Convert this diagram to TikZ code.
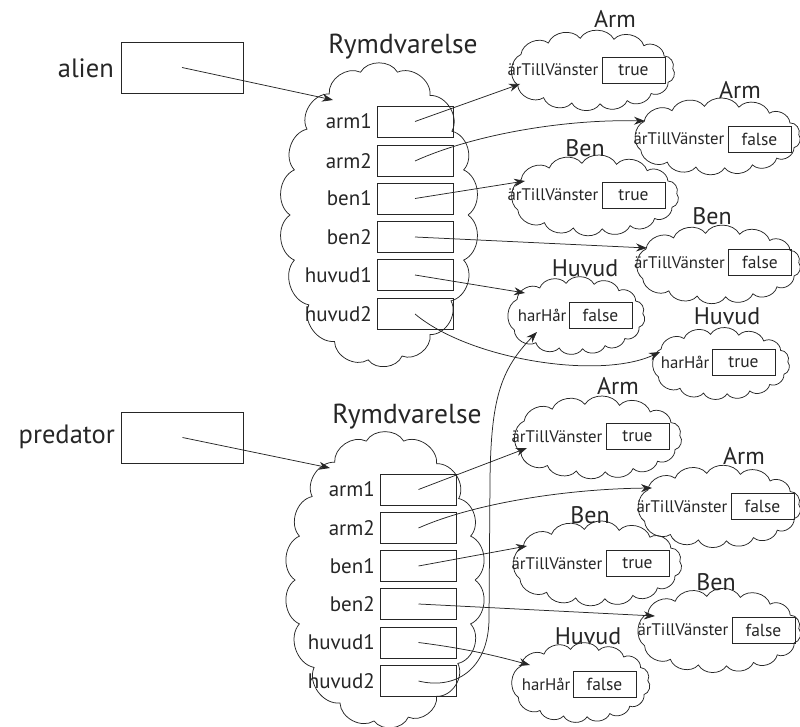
\documentclass[tikz,border=0pt]{standalone}
\usepackage{fontspec}
\setmainfont{PT Sans}
\usetikzlibrary{calc,arrows.meta}
\tikzset{
  ln/.style={line width=0.75pt, draw=black!85},
  cloudarea/.style={inner sep=0pt, outer sep=0pt},
  refbox/.style={ln, draw, minimum width=122pt, minimum height=51pt, inner sep=0pt},
  fieldbox/.style={ln, draw, minimum width=76pt, minimum height=31pt, inner sep=0pt},
  valbox/.style={ln, draw, minimum width=63pt, minimum height=26pt, inner sep=0pt, font=\fontsize{17.5}{19}\selectfont, text=black!85},
  varlabel/.style={inner sep=0pt, font=\fontsize{26.5}{29}\selectfont, text=black!85},
  title/.style={inner sep=0pt, font=\fontsize{27.5}{30}\selectfont, text=black!85},
  ctitle/.style={inner sep=0pt, font=\fontsize{24}{26}\selectfont, text=black!85},
  fieldlabel/.style={inner sep=0pt, font=\fontsize{21}{23}\selectfont, text=black!85},
  attr/.style={inner sep=0pt, font=\fontsize{16.8}{19}\selectfont, text=black!85},
  arr/.style={ln, -{Stealth[length=11pt,width=8pt]}},
  puff/.style={bend left=60},
}
% small cloud outline around named area: #1 name, #2 half-width, #3 half-height
\newcommand\smallcloud[3]{%
  \draw[ln] ($(#1.center)+(155:{#2-5} and {#3-6})$)
    foreach \t in {210,238,262,286,310,333,356,380,403,424,444,464,486,515}
    { to[puff] ($(#1.center)+(\t:{#2-5} and {#3-6})$) };
}
% big cloud outline: #1 name, #2 half-width, #3 half-height
\newcommand\bigcloud[3]{%
  \draw[ln] ($(#1.center)+(0:{#2-5} and {#3-6})$)
    foreach \t in {18,36,55,75,97,120,142,162,180,198,216,236,258,282,305,325,342,360}
    { to[puff] ($(#1.center)+(\t:{#2-5} and {#3-6})$) };
}
\begin{document}
\begin{tikzpicture}[x=1pt,y=-1pt]
\useasboundingbox (0,0) rectangle (800,727);

% ---------- alien ----------
\node[refbox] (alien) at (182,67.5) {};
\node[varlabel, anchor=east] (alienL) at (114,68) {alien};
\node[title] (rv1t) at (403,47) {Rymdvarelse};
\node[cloudarea, minimum width=188pt, minimum height=304pt] (rv1) at (379,215) {};
\bigcloud{rv1}{94}{152}
\foreach \n/\y in {arm1/121.5, arm2/161, ben1/198.5, ben2/237, huvud1/275, huvud2/314}{
  \node[fieldbox] (a-\n) at (415,\y) {};
  \node[fieldlabel, anchor=east] (a-\n-l) at (372,\y) {\n};
}

% Arm true
\node[cloudarea, minimum width=173pt, minimum height=78pt] (a1c) at (591.5,71) {};
\smallcloud{a1c}{86.5}{39}
\node[ctitle] (a1t) at (615,19) {Arm};
\node[valbox] (a1v) at (633.5,70) {true};
\node[attr, anchor=east] (a1a) at ([xshift=-3pt]a1v.west) {ärTillVänster};
% Arm false
\node[cloudarea, minimum width=176pt, minimum height=74pt] (a2c) at (716,137) {};
\smallcloud{a2c}{88}{37}
\node[ctitle] (a2t) at (740,90) {Arm};
\node[valbox] (a2v) at (759.5,139) {false};
\node[attr, anchor=east] (a2a) at ([xshift=-3pt]a2v.west) {ärTillVänster};
% Ben true
\node[cloudarea, minimum width=177pt, minimum height=78pt] (b1c) at (593.5,196) {};
\smallcloud{b1c}{88.5}{39}
\node[ctitle] (b1t) at (585,148) {Ben};
\node[valbox] (b1v) at (633.5,195) {true};
\node[attr, anchor=east] (b1a) at ([xshift=-3pt]b1v.west) {ärTillVänster};
% Ben false
\node[cloudarea, minimum width=174pt, minimum height=76pt] (b2c) at (717,265) {};
\smallcloud{b2c}{87}{38}
\node[ctitle] (b2t) at (712,216) {Ben};
\node[valbox] (b2v) at (760,262.5) {false};
\node[attr, anchor=east] (b2a) at ([xshift=-3pt]b2v.west) {ärTillVänster};
% Huvud false
\node[cloudarea, minimum width=145pt, minimum height=78pt] (h1c) at (575.5,316) {};
\smallcloud{h1c}{72.5}{39}
\node[ctitle] (h1t) at (585,268) {Huvud};
\node[valbox] (h1v) at (600.5,315.5) {false};
\node[attr, anchor=east] (h1a) at ([xshift=-2pt]h1v.west) {harHår};
% Huvud true
\node[cloudarea, minimum width=146pt, minimum height=72pt] (h2c) at (720,364) {};
\smallcloud{h2c}{73}{36}
\node[ctitle] (h2t) at (727,316) {Huvud};
\node[valbox] (h2v) at (743.5,362.5) {true};
\node[attr, anchor=east] (h2a) at ([xshift=-2pt]h2v.west) {harHår};

% tips
\coordinate (rv1tip) at (333,100);
\coordinate (a1tip) at (520,84);
\coordinate (a2tip) at (645,121);
\coordinate (b1tip) at (525,181);
\coordinate (b2tip) at (647,248);
\coordinate (h1tip) at (525,293);
\coordinate (h2tip) at (660,352);

\draw[arr] (alien.center) -- (rv1tip);
\draw[arr] (a-arm1.center) -- (a1tip);
\draw[arr] (a-arm2.center) .. controls (470,136) and (560,119) .. (a2tip);
\draw[arr] (a-ben1.center) -- (b1tip);
\draw[arr] (a-ben2.center) -- (b2tip);
\draw[arr] (a-huvud1.center) -- (h1tip);
\draw[arr] (a-huvud2.center) .. controls (470,360) and (600,380) .. (h2tip);

% ---------- predator ----------
\node[refbox] (pred) at (182.5,437.5) {};
\node[varlabel, anchor=east] (predL) at (115,437) {predator};
\node[title] (rv2t) at (407,417) {Rymdvarelse};
\node[cloudarea, minimum width=190pt, minimum height=296pt] (rv2) at (385,580) {};
\bigcloud{rv2}{95}{148}
\foreach \n/\y in {arm1/489.5, arm2/528, ben1/566, ben2/604, huvud1/642.5, huvud2/681}{
  \node[fieldbox] (p-\n) at (418.5,\y) {};
  \node[fieldlabel, anchor=east] (p-\n-l) at (375,\y) {\n};
}

% Arm true
\node[cloudarea, minimum width=177pt, minimum height=80pt] (pa1c) at (596.5,438) {};
\smallcloud{pa1c}{88.5}{40}
\node[ctitle] (pa1t) at (618,386) {Arm};
\node[valbox] (pa1v) at (637.5,436.5) {true};
\node[attr, anchor=east] (pa1a) at ([xshift=-3pt]pa1v.west) {ärTillVänster};
% Arm false
\node[cloudarea, minimum width=172pt, minimum height=80pt] (pa2c) at (718,507) {};
\smallcloud{pa2c}{86}{40}
\node[ctitle] (pa2t) at (744,456) {Arm};
\node[valbox] (pa2v) at (762.5,506.5) {false};
\node[attr, anchor=east] (pa2a) at ([xshift=-3pt]pa2v.west) {ärTillVänster};
% Ben true
\node[cloudarea, minimum width=178pt, minimum height=82pt] (pb1c) at (596,564) {};
\smallcloud{pb1c}{89}{41}
\node[ctitle] (pb1t) at (590,515) {Ben};
\node[valbox] (pb1v) at (637.5,563.5) {true};
\node[attr, anchor=east] (pb1a) at ([xshift=-3pt]pb1v.west) {ärTillVänster};
% Ben false
\node[cloudarea, minimum width=172pt, minimum height=82pt] (pb2c) at (718,631) {};
\smallcloud{pb2c}{86}{41}
\node[ctitle] (pb2t) at (716,582) {Ben};
\node[valbox] (pb2v) at (763.5,630) {false};
\node[attr, anchor=east] (pb2a) at ([xshift=-3pt]pb2v.west) {ärTillVänster};
% Huvud false
\node[cloudarea, minimum width=146pt, minimum height=80pt] (ph1c) at (580,683) {};
\smallcloud{ph1c}{73}{40}
\node[ctitle] (ph1t) at (588,636) {Huvud};
\node[valbox] (ph1v) at (604.5,684.5) {false};
\node[attr, anchor=east] (ph1a) at ([xshift=-2pt]ph1v.west) {harHår};

% tips
\coordinate (rv2tip) at (330,468);
\coordinate (pa1tip) at (527,448);
\coordinate (pa2tip) at (652,488);
\coordinate (pb1tip) at (527,546);
\coordinate (pb2tip) at (655,616);
\coordinate (ph1tip) at (530,665);
\coordinate (sharedtip) at (537,332);

\draw[arr] (pred.center) -- (rv2tip);
\draw[arr] (p-arm1.center) -- (pa1tip);
\draw[arr] (p-arm2.center) .. controls (470,505) and (560,489) .. (pa2tip);
\draw[arr] (p-ben1.center) -- (pb1tip);
\draw[arr] (p-ben2.center) -- (pb2tip);
\draw[arr] (p-huvud1.center) .. controls (470,649) and (500,657) .. (ph1tip);
\draw[arr] (p-huvud2.center) .. controls (455,690) and (488,670) .. (489,620)
   -- (490,480) .. controls (491,400) and (500,370) .. (sharedtip);
\end{tikzpicture}
\end{document}
